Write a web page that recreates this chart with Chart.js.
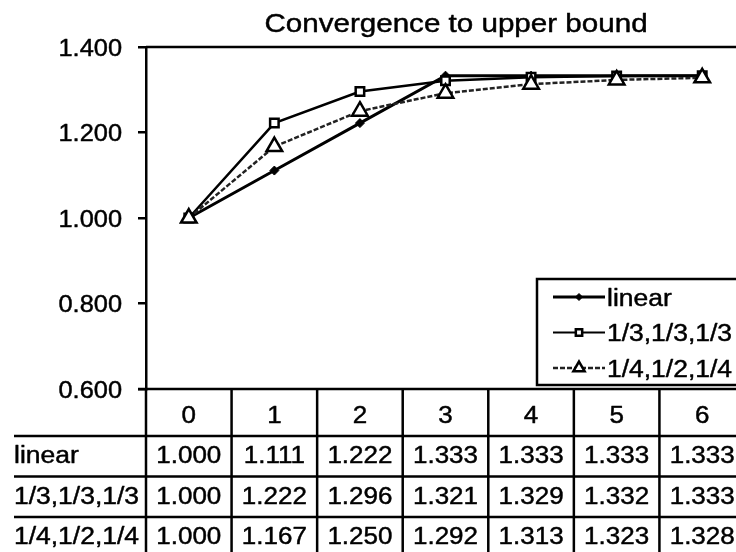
<!DOCTYPE html>
<html>
<head>
<meta charset="utf-8">
<title>Convergence to upper bound</title>
<script src="https://cdn.jsdelivr.net/npm/chart.js@4/dist/chart.umd.min.js"></script>
<style>
html, body { margin: 0; padding: 0; background: #fff; overflow: hidden; }
canvas { display: block; }
</style>
</head>
<body>
<canvas id="chart" width="760" height="552"></canvas>
<script>
// ---- data ----
const chartTitle = 'Convergence to upper bound';
const steps = ['0', '1', '2', '3', '4', '5', '6'];
const seriesNames = ['linear', '1/3,1/3,1/3', '1/4,1/2,1/4'];
const linear = [1.000, 1.111, 1.222, 1.333, 1.333, 1.333, 1.333];
const thirds = [1.000, 1.222, 1.296, 1.321, 1.329, 1.332, 1.333];
const quarterHalfQuarter = [1.000, 1.167, 1.250, 1.292, 1.313, 1.323, 1.328];
const yTickValues = [0.6, 0.8, 1.0, 1.2, 1.4];

// ---- look ----
const FONT = '"Liberation Sans", Arial, Helvetica, sans-serif';
const TEXT_STRETCH = 1.13;      // glyphs are drawn a little wider than the stock face
const TEXT_WEIGHT = 0.45;       // outline added to thicken the strokes
const HEADER_H = 47;            // data-table header row height
const ROW_H = 40.5;             // data-table body row height
const TABLE_LEFT = 14;          // where the row labels start

function wideText(ctx, text, x, y, align, size, sx) {
  ctx.save();
  ctx.font = size + 'px ' + FONT;
  ctx.textAlign = 'left';
  ctx.textBaseline = 'alphabetic';
  const w = ctx.measureText(text).width * sx;
  let left = x;
  if (align === 'center') left = x - w / 2;
  else if (align === 'right') left = x - w;
  ctx.translate(left, y);
  ctx.scale(sx, 1);
  ctx.fillStyle = '#000';
  ctx.strokeStyle = '#000';
  ctx.lineWidth = TEXT_WEIGHT;
  ctx.lineJoin = 'round';
  ctx.fillText(text, 0, 0);
  ctx.strokeText(text, 0, 0);
  ctx.restore();
}

function marker(ctx, style, r, x, y, fill, stroke, bw) {
  ctx.save();
  ctx.fillStyle = fill;
  ctx.strokeStyle = stroke;
  ctx.lineWidth = bw;
  ctx.setLineDash([]);
  if (Chart.helpers && Chart.helpers.drawPoint) {
    Chart.helpers.drawPoint(ctx, { pointStyle: style, radius: r, borderWidth: bw, rotation: 0 }, x, y);
  } else {
    ctx.beginPath();
    if (style === 'rectRot') {
      ctx.moveTo(x, y - r); ctx.lineTo(x + r, y); ctx.lineTo(x, y + r); ctx.lineTo(x - r, y);
    } else if (style === 'rect') {
      const s = r * Math.SQRT1_2; ctx.rect(x - s, y - s, 2 * s, 2 * s);
    } else {
      ctx.moveTo(x, y - r);
      ctx.lineTo(x + r * Math.sin(Math.PI / 3), y + r / 2);
      ctx.lineTo(x - r * Math.sin(Math.PI / 3), y + r / 2);
    }
    ctx.closePath(); ctx.fill(); if (bw > 0) ctx.stroke();
  }
  ctx.restore();
}

const legendRadius = [3.5, 4.5, 6.5];

// Plot frame, title, axis labels, legend box and the data table under the plot
const tableAndFrame = {
  id: 'tableAndFrame',
  beforeDatasetsDraw(chart) {
    const { ctx, chartArea: a } = chart;
    ctx.save();
    ctx.strokeStyle = '#000';
    ctx.lineWidth = 2.5;
    ctx.beginPath();
    ctx.moveTo(a.left, a.top); ctx.lineTo(a.right, a.top);
    ctx.moveTo(a.right, a.top); ctx.lineTo(a.right, a.bottom);
    ctx.stroke();
    ctx.restore();
    // y tick labels
    const ys = chart.scales.y;
    yTickValues.forEach(v => {
      wideText(ctx, v.toFixed(3), a.left - 24, ys.getPixelForValue(v) + 8.5, 'right', 23.5, 1.08);
    });
  },
  afterDatasetsDraw(chart) {
    const { ctx } = chart;
    // legend
    const bx = 537, by = 279, bw = chart.width - 537 + 5, bh = 106;
    ctx.save();
    ctx.fillStyle = '#fff';
    ctx.fillRect(bx, by, bw, bh);
    ctx.strokeStyle = '#000';
    ctx.lineWidth = 2.5;
    ctx.strokeRect(bx, by, bw, bh);
    ctx.restore();
    chart.data.datasets.forEach((ds, i) => {
      const y = 297 + i * 35.5;
      ctx.save();
      ctx.strokeStyle = ds.borderColor;
      ctx.lineWidth = ds.legendLineWidth;
      ctx.setLineDash(ds.borderDash || []);
      ctx.beginPath();
      ctx.moveTo(553, y); ctx.lineTo(605, y);
      ctx.stroke();
      ctx.restore();
      marker(ctx, ds.pointStyle, legendRadius[i], 579, y, ds.pointBackgroundColor, ds.pointBorderColor, ds.pointBorderWidth);
      wideText(ctx, ds.label, 607, y + 8.5, 'left', 23, 1.15);
    });
  },
  afterDraw(chart) {
    const { ctx, chartArea: a } = chart;
    const xs = chart.scales.x;
    const colW = (a.right - a.left) / steps.length;

    // title, centred over the plot
    wideText(ctx, chartTitle, 456, 32, 'center', 25.5, 1.16);

    // table grid
    const top = a.bottom;
    const rowTops = [top + HEADER_H];
    for (let i = 1; i < chart.data.datasets.length; i++) rowTops.push(rowTops[0] + i * ROW_H);
    ctx.save();
    ctx.strokeStyle = '#000';
    ctx.lineWidth = 2.5;
    ctx.beginPath();
    ctx.moveTo(a.left - 8, top); ctx.lineTo(a.right, top);
    for (let i = 0; i <= steps.length; i++) {
      const x = a.left + i * colW;
      ctx.moveTo(x, top); ctx.lineTo(x, chart.height);
    }
    rowTops.forEach(y => { ctx.moveTo(TABLE_LEFT, y); ctx.lineTo(a.right, y); });
    ctx.stroke();
    ctx.restore();

    // header labels
    steps.forEach((s, i) => {
      wideText(ctx, s, xs.getPixelForValue(i), top + 34, 'center', 23, TEXT_STRETCH);
    });
    // body rows
    chart.data.datasets.forEach((ds, r) => {
      const base = rowTops[r] + 27;
      wideText(ctx, ds.label, TABLE_LEFT, base, 'left', 23, 1.15);
      ds.data.forEach((v, i) => {
        wideText(ctx, v.toFixed(3), xs.getPixelForValue(i), base, 'center', 23, TEXT_STRETCH);
      });
    });
  }
};

new Chart(document.getElementById('chart'), {
  type: 'line',
  data: {
    labels: steps,
    datasets: [
      {
        label: seriesNames[0], data: linear,
        borderColor: '#000', borderWidth: 3, legendLineWidth: 3,
        pointStyle: 'rectRot', pointRadius: 4.5, pointBackgroundColor: '#000',
        pointBorderColor: '#000', pointBorderWidth: 1, order: 2
      },
      {
        label: seriesNames[1], data: thirds,
        borderColor: '#000', borderWidth: 2.5, legendLineWidth: 2,
        pointStyle: 'rect', pointRadius: 6, pointBackgroundColor: '#fff',
        pointBorderColor: '#000', pointBorderWidth: 2.5, order: 1
      },
      {
        label: seriesNames[2], data: quarterHalfQuarter,
        borderColor: '#222', borderWidth: 2.5, borderDash: [5, 2], legendLineWidth: 2.5,
        pointStyle: 'triangle', pointRadius: 9, pointBackgroundColor: '#fff',
        pointBorderColor: '#000', pointBorderWidth: 2.5, order: 0
      }
    ]
  },
  options: {
    responsive: false,
    animation: false,
    devicePixelRatio: 1,
    layout: { padding: { left: 0, right: 15, top: 47, bottom: 163 } },
    elements: { line: { tension: 0 } },
    plugins: {
      legend: { display: false },
      title: { display: false },
      tooltip: { enabled: false }
    },
    scales: {
      x: { type: 'category', offset: true, display: false },
      y: {
        min: 0.6, max: 1.4,
        afterFit(scale) { scale.width = 146; },
        afterBuildTicks(scale) { scale.ticks = yTickValues.map(v => ({ value: v })); },
        border: { display: true, color: '#000', width: 2.5 },
        grid: { drawOnChartArea: false, drawTicks: true, tickLength: 8, color: '#000', lineWidth: 2.5 },
        ticks: { display: false }
      }
    }
  },
  plugins: [tableAndFrame]
});
</script>
</body>
</html>
